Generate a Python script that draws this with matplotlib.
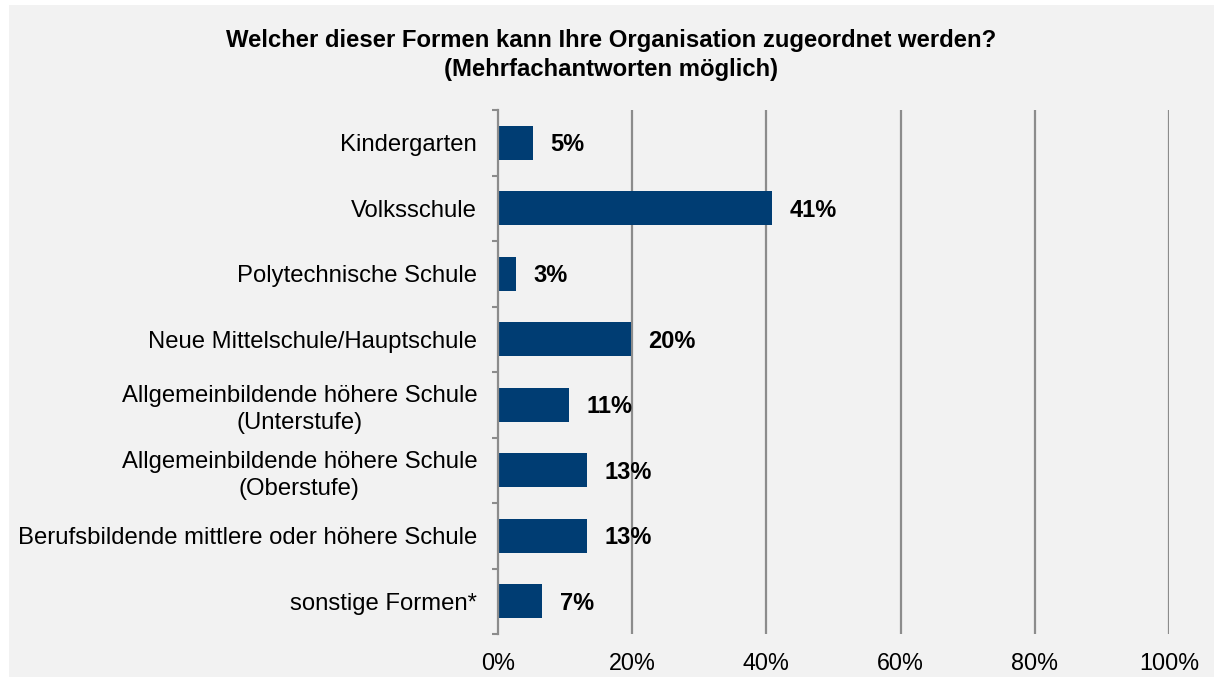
import matplotlib
matplotlib.use("Agg")
import matplotlib.pyplot as plt
from matplotlib.patches import Rectangle

plt.rcParams['font.family'] = ['Liberation Sans', 'DejaVu Sans']

categories = [
    "Kindergarten",
    "Volksschule",
    "Polytechnische Schule",
    "Neue Mittelschule/Hauptschule",
    "Allgemeinbildende höhere Schule\n(Unterstufe)",
    "Allgemeinbildende höhere Schule\n(Oberstufe)",
    "Berufsbildende mittlere oder höhere Schule",
    "sonstige Formen*",
]
values = [5.2, 40.8, 2.7, 19.8, 10.6, 13.2, 13.2, 6.6]
xticks = [0, 20, 40, 60, 80, 100]
title = "Welcher dieser Formen kann Ihre Organisation zugeordnet werden?\n(Mehrfachantworten möglich)"

bar_color = "#003d73"
bg = "#f2f2f2"
grid_color = "#8c8c8c"

fig = plt.figure(figsize=(12.14, 6.77), dpi=100, facecolor="white")
fig.patches.append(Rectangle((9 / 1214, 0), 1, 1 - 5 / 677, transform=fig.transFigure,
                             facecolor=bg, edgecolor="none", zorder=-10))

ax = fig.add_axes([498 / 1214, 1 - 634 / 677, (1169 - 498) / 1214, (634 - 110) / 677])
ax.set_facecolor(bg)

ypos = list(range(len(categories)))
ax.barh(ypos, values, height=0.52, color=bar_color, zorder=3)
for y, v in zip(ypos, values):
    ax.text(v + 2.6, y + 0.03, f"{v:.0f}%", va="center", ha="left", fontsize=17,
            fontweight="bold", color="black")

ax.set_xlim(0, 100)
ax.set_ylim(len(categories) - 0.5, -0.5)
ax.set_xticks(xticks)
ax.set_xticklabels([f"{t}%" for t in xticks], fontsize=16.8)
ax.tick_params(axis="x", length=0, pad=13)
ax.set_yticks(ypos)
ax.set_yticklabels(categories, fontsize=17.2, ha="right", multialignment="center",
                   linespacing=1.3)
ax.tick_params(axis="y", which="major", length=0, pad=15)
ax.set_yticks([i - 0.5 for i in range(len(categories) + 1)], minor=True)
ax.tick_params(axis="y", which="minor", length=4.5, width=1.5, color=grid_color)

for x in xticks[1:]:
    ax.axvline(x, color=grid_color, linewidth=1.6, zorder=1)

for s in ["top", "right", "bottom"]:
    ax.spines[s].set_visible(False)
ax.spines["left"].set_color(grid_color)
ax.spines["left"].set_linewidth(1.6)
ax.spines["left"].set_zorder(4)

fig.text(0.5 + 4 / 1214, 1 - 55 / 677, title, ha="center", va="center", fontsize=17.2,
         fontweight="bold", linespacing=1.3)

fig.savefig("out.png", dpi=100, facecolor=fig.get_facecolor())
